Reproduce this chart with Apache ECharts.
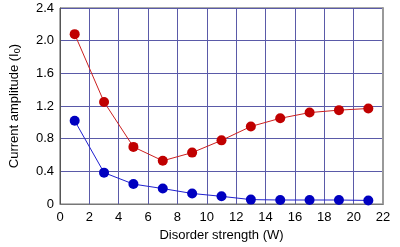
<!DOCTYPE html>
<html><head><meta charset="utf-8">
<script src="https://cdn.jsdelivr.net/npm/echarts@6/dist/echarts.min.js"></script>
<style>html,body{margin:0;padding:0;background:#fff}#c{width:400px;height:247px}</style>
</head><body><div id="c"></div>
<script>
const disorder = [1, 3, 5, 7, 9, 11, 13, 15, 17, 19, 21];
const redValues = [2.08, 1.25, 0.70, 0.53, 0.63, 0.78, 0.95, 1.05, 1.12, 1.15, 1.17];
const blueValues = [1.02, 0.385, 0.245, 0.19, 0.13, 0.095, 0.055, 0.05, 0.05, 0.05, 0.045];
const xTicks = [0, 2, 4, 6, 8, 10, 12, 14, 16, 18, 20, 22];
const yTicks = [0, 0.4, 0.8, 1.2, 1.6, 2.0, 2.4];

const font = 'Liberation Sans, Arial, Helvetica, sans-serif';
const chart = echarts.init(document.getElementById('c'), null, {renderer: 'canvas'});
const gridLine = {show: true, lineStyle: {color: '#5a5aa8', width: 1}};
chart.setOption({
  animation: false,
  grid: {left: 57, right: 17, top: 8, bottom: 38, show: true, borderColor: '#555', borderWidth: 1, backgroundColor: '#fff'},
  xAxis: {
    type: 'value', min: xTicks[0], max: xTicks[xTicks.length - 1], interval: 2,
    name: 'Disorder strength (W)', nameLocation: 'middle', nameGap: 22,
    nameTextStyle: {fontFamily: font, fontSize: 13, color: '#000'},
    axisLine: {show: true, lineStyle: {color: '#777', width: 1}},
    axisTick: {show: false},
    axisLabel: {fontFamily: font, fontSize: 13, color: '#000', margin: 7},
    splitLine: gridLine
  },
  yAxis: [{
    type: 'value', min: yTicks[0], max: yTicks[yTicks.length - 1], interval: 0.4,
    name: '{a|Current amplitude (I}{s|0}{a|)}', nameLocation: 'middle', nameGap: 38,
    nameTextStyle: {fontFamily: font, fontSize: 13, color: '#000',
      rich: {a: {fontFamily: font, fontSize: 13, color: '#000'}, s: {fontFamily: font, fontSize: 9, color: '#000', verticalAlign: 'bottom', padding: [6, 0, 0, 0]}}},
    axisLine: {show: true, lineStyle: {color: '#555', width: 1}},
    axisTick: {show: false},
    axisLabel: {fontFamily: font, fontSize: 13, color: '#000', margin: 6,
      formatter: v => v === 0 ? '0' : v.toFixed(1)},
    splitLine: gridLine
  }, {
    type: 'value', position: 'right', min: yTicks[0], max: yTicks[yTicks.length - 1], interval: 0.4,
    axisLine: {show: true, lineStyle: {color: '#999', width: 2}},
    axisTick: {show: false}, axisLabel: {show: false}, splitLine: {show: false}
  }],
  series: [
    {type: 'line', data: disorder.map((x, i) => [x, redValues[i]]), symbol: 'circle', symbolSize: 10,
     itemStyle: {color: '#c00000'}, lineStyle: {color: '#cc2020', width: 1}},
    {type: 'line', data: disorder.map((x, i) => [x, blueValues[i]]), symbol: 'circle', symbolSize: 10,
     itemStyle: {color: '#0000c0'}, lineStyle: {color: '#2020d0', width: 1}}
  ]
});
</script></body></html>
